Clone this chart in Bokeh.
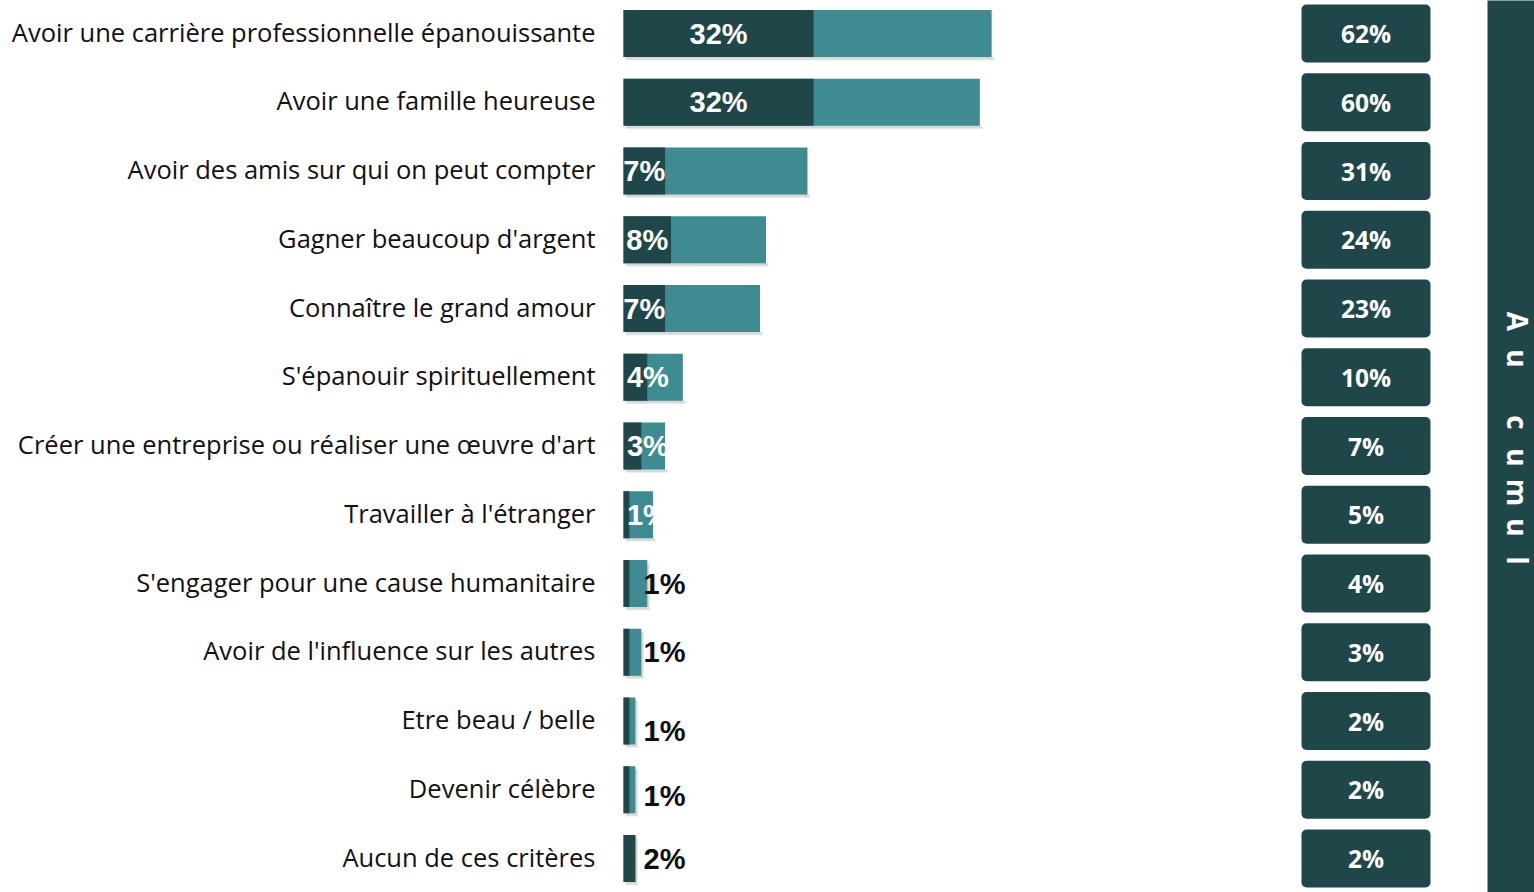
import math
from bokeh.plotting import figure
from bokeh.models import Range1d, ColumnDataSource
from bokeh.core.properties import value
from bokeh.embed import file_html
from bokeh.resources import INLINE

categories = [
    "Avoir une carrière professionnelle épanouissante",
    "Avoir une famille heureuse",
    "Avoir des amis sur qui on peut compter",
    "Gagner beaucoup d'argent",
    "Connaître le grand amour",
    "S'épanouir spirituellement",
    "Créer une entreprise ou réaliser une œuvre d'art",
    "Travailler à l'étranger",
    "S'engager pour une cause humanitaire",
    "Avoir de l'influence sur les autres",
    "Etre beau / belle",
    "Devenir célèbre",
    "Aucun de ces critères",
]
first_choice = [32, 32, 7, 8, 7, 4, 3, 1, 1, 1, 1, 1, 2]
cumul = [62, 60, 31, 24, 23, 10, 7, 5, 4, 3, 2, 2, 2]
band_title = "Au cumul"

DARK = "#1F474A"
LIGHT = "#3E8B92"

n = len(categories)
rows = list(range(n))

W, H = 1534, 892
PX_PER_UNIT = 5.94
ROW_PX = 68.75
x_start = -623 / PX_PER_UNIT
x_end = x_start + W / PX_PER_UNIT
y_top = -33 / ROW_PX
y_bot = (H - 33) / ROW_PX

p = figure(width=W, height=H, output_backend="svg", toolbar_location=None,
           x_range=Range1d(x_start, x_end), y_range=Range1d(y_bot, y_top),
           min_border=0, outline_line_color=None)
p.axis.visible = False
p.grid.visible = False
p.background_fill_color = "white"
p.border_fill_color = "white"

bar_h = 47 / ROW_PX
src = ColumnDataSource(dict(y=rows, first=first_choice, cumul=cumul,
                            cat=categories,
                            cum_lbl=[f"{v}%" for v in cumul]))

# soft shadow
for dx, dy, a in [(0.45, 0.05, 0.10), (0.3, 0.035, 0.14)]:
    p.hbar(y=[r + dy for r in rows], left=[dx] * n, right=[c + dx for c in cumul],
           height=bar_h, fill_color="#555555", fill_alpha=a, line_color=None)

p.hbar(y="y", left=0, right="cumul", height=bar_h, source=src,
       fill_color=LIGHT, line_color=None)
p.hbar(y="y", left=0, right="first", height=bar_h, source=src,
       fill_color=DARK, line_color=None)

# category labels
p.text(x=0, y="y", text="cat", source=src, x_offset=-28, y_offset=-2,
       text_align="right", text_baseline="middle",
       text_font=value("Open Sans"), text_font_size="25.5px", text_color="#111111")

# inside labels (rows 0-7)
in_rows = [r for r in rows if r < 8]
in_x = [first_choice[r] / 2 if first_choice[r] >= 5 else 4.1 for r in in_rows]
p.text(x=in_x, y=in_rows, text=[f"{first_choice[r]}%" for r in in_rows],
       text_align="center", text_baseline="middle",
       text_font=value("Liberation Sans"), text_font_style="bold",
       text_font_size="29px", text_color="white")
# clip mask to the right of short bars
p.hbar(y=in_rows, left=[cumul[r] for r in in_rows],
       right=[cumul[r] + 6 for r in in_rows], height=bar_h,
       fill_color="white", line_color=None)

# outside labels (rows 8-12)
out_rows = [r for r in rows if r >= 8]
label_dy = [0, 0, 9.5, 6, 0]
p.text(x=[20 / PX_PER_UNIT] * len(out_rows),
       y=[r + d / ROW_PX for r, d in zip(out_rows, label_dy)],
       text=[f"{first_choice[r]}%" for r in out_rows],
       text_align="left", text_baseline="middle",
       text_font=value("Liberation Sans"), text_font_style="bold",
       text_font_size="29px", text_color="#0d0d0d")

# right column boxes
box_x = (1365.5 - 623) / PX_PER_UNIT
p.rect(x=box_x, y="y", width=129, height=58, width_units="screen",
       height_units="screen", source=src, fill_color=DARK, line_color=None,
       border_radius=5)
p.text(x=box_x, y="y", text="cum_lbl", source=src,
       text_align="center", text_baseline="middle",
       text_font=value("Open Sans"), text_font_style="bold",
       text_font_size="24.5px", text_color="white")

# vertical band
band_left = (1487 - 623) / PX_PER_UNIT
p.quad(left=[band_left], right=[x_end + 5], bottom=[y_bot + 1], top=[y_top - 1],
       fill_color=DARK, line_color=None)
letters = [ch for ch in band_title if ch != " "]
letter_px = [-124.5, -87.5, -23.5, 11.5, 46.5, 81.5, 114.5]
band_x = (1517 - 623) / PX_PER_UNIT
mid_row = 6
p.text(x=[band_x] * len(letters), y=[mid_row + d / ROW_PX for d in letter_px],
       text=letters, angle=-math.pi / 2, text_align="center",
       text_baseline="middle", text_font=value("Open Sans"),
       text_font_style="bold", text_font_size="28px", text_color="white")

open("out.html", "w").write(file_html(p, INLINE))
